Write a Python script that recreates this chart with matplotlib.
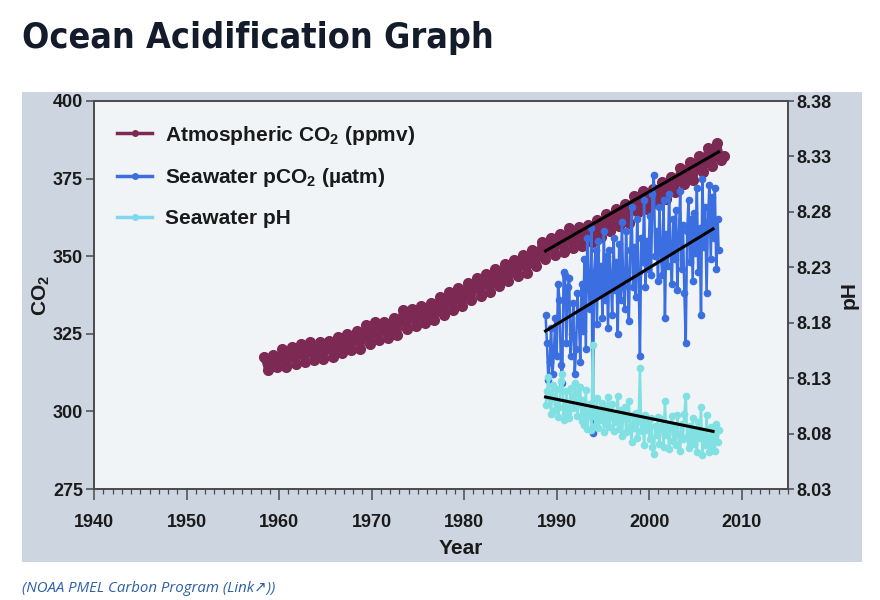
import numpy as np
import matplotlib
matplotlib.use("Agg")
import matplotlib.pyplot as plt
from matplotlib.patches import Rectangle
from matplotlib.lines import Line2D
from matplotlib.ticker import MultipleLocator

plt.rcParams["font.family"] = ["Liberation Sans", "DejaVu Sans"]
plt.rcParams["mathtext.default"] = "regular"

# Mauna Loa atmospheric CO2: yearly seasonal peak (May) and trough (Oct), ppmv
co2_year = list(range(1958, 2008))
co2_peak = [317.5, 318.3, 320.0, 320.6, 321.6, 322.3, 322.2, 322.8, 324.1, 324.8,
            326.0, 327.8, 328.7, 328.9, 330.2, 332.7, 333.0, 333.9, 334.8, 336.9,
            338.4, 339.8, 341.5, 343.1, 344.4, 345.9, 347.6, 348.9, 350.4, 352.1,
            354.5, 355.9, 357.3, 359.0, 359.4, 359.9, 361.8, 363.6, 365.3, 366.8,
            369.4, 371.1, 371.8, 373.8, 375.6, 378.4, 380.5, 382.2, 384.9, 386.4]
co2_trough = [313.2, 314.2, 314.3, 315.2, 315.8, 316.4, 317.0, 317.5, 318.7, 319.7,
              320.2, 321.6, 322.9, 323.6, 324.7, 326.6, 327.4, 328.5, 329.3, 331.0,
              332.8, 334.0, 336.0, 337.2, 338.4, 340.5, 342.0, 343.5, 344.7, 346.9,
              349.1, 350.4, 351.4, 352.5, 353.4, 354.5, 356.1, 358.2, 359.8, 360.8,
              364.1, 365.2, 367.0, 368.4, 370.8, 373.2, 374.5, 377.0, 379.1, 381.0]
co2_end = (2008.1, 382.3)

# Station ALOHA seawater pCO2 (uatm) and pH
hot_year = [1988.80, 1988.95, 1989.10, 1989.25, 1989.40, 1989.55, 1989.70, 1989.85,
            1990.00, 1990.15, 1990.30, 1990.45, 1990.60, 1990.75, 1990.90,
            1991.05, 1991.20, 1991.35, 1991.50, 1991.65, 1991.80, 1991.95,
            1992.10, 1992.25, 1992.40, 1992.55, 1992.70, 1992.85,
            1993.00, 1993.15, 1993.30, 1993.45, 1993.60, 1993.75, 1993.90,
            1994.05, 1994.20, 1994.35, 1994.50, 1994.65, 1994.80, 1994.95,
            1995.10, 1995.25, 1995.40, 1995.55, 1995.70, 1995.85,
            1996.00, 1996.15, 1996.30, 1996.45, 1996.60, 1996.75, 1996.90,
            1997.05, 1997.20, 1997.35, 1997.50, 1997.65, 1997.80, 1997.95,
            1998.10, 1998.25, 1998.40, 1998.55, 1998.70, 1998.85,
            1999.00, 1999.15, 1999.30, 1999.45, 1999.60, 1999.75, 1999.90,
            2000.05, 2000.20, 2000.35, 2000.50, 2000.65, 2000.80, 2000.95,
            2001.10, 2001.25, 2001.40, 2001.55, 2001.70, 2001.85,
            2002.00, 2002.15, 2002.30, 2002.45, 2002.60, 2002.75, 2002.90,
            2003.05, 2003.20, 2003.35, 2003.50, 2003.65, 2003.80, 2003.95,
            2004.10, 2004.25, 2004.40, 2004.55, 2004.70, 2004.85,
            2005.00, 2005.15, 2005.30, 2005.45, 2005.60, 2005.75, 2005.90,
            2006.05, 2006.20, 2006.35, 2006.50, 2006.65, 2006.80, 2006.95,
            2007.10, 2007.25, 2007.40, 2007.50]
hot_pco2 = [331, 322, 310, 316, 327, 312, 319, 330,
            318, 341, 336, 315, 309, 345, 344,
            322, 340, 343, 318, 325, 335, 312,
            320, 338, 330, 316, 341, 326,
            349, 320, 356, 341, 333, 359, 293,
            345, 352, 328, 355, 338, 347, 330,
            358, 336, 350, 327, 352, 343,
            331, 356, 339, 348, 325, 354, 336,
            361, 340, 333, 358, 345, 329, 352,
            366, 340, 353, 337, 362, 345,
            318, 356, 348, 368, 340, 355, 346,
            363, 344, 370, 376, 350, 358, 342,
            366, 351, 344, 368, 330, 357,
            347, 370, 352, 341, 362, 349, 365,
            339, 356, 371, 346, 360, 338, 322,
            358, 368, 348, 362, 342, 364,
            351, 372, 345, 359, 331, 375, 353,
            366, 338, 361, 373, 349, 369, 356,
            372, 346, 362, 352]
hot_ph = [8.106, 8.118, 8.131, 8.112, 8.098, 8.124, 8.113, 8.101,
          8.120, 8.095, 8.104, 8.127, 8.134, 8.092, 8.099,
          8.118, 8.099, 8.094, 8.121, 8.112, 8.103, 8.126,
          8.117, 8.096, 8.108, 8.122, 8.091, 8.110,
          8.088, 8.119, 8.084, 8.097, 8.107, 8.083, 8.160,
          8.096, 8.088, 8.112, 8.085, 8.101, 8.092, 8.108,
          8.081, 8.103, 8.089, 8.113, 8.086, 8.095,
          8.107, 8.082, 8.099, 8.090, 8.114, 8.084, 8.101,
          8.078, 8.097, 8.104, 8.081, 8.093, 8.109, 8.086,
          8.072, 8.097, 8.085, 8.099, 8.076, 8.091,
          8.139, 8.082, 8.090, 8.070, 8.097, 8.083, 8.092,
          8.075, 8.094, 8.068, 8.062, 8.087, 8.079, 8.095,
          8.071, 8.086, 8.093, 8.068, 8.109, 8.079,
          8.089, 8.066, 8.084, 8.096, 8.073, 8.087, 8.070,
          8.097, 8.079, 8.064, 8.089, 8.075, 8.098, 8.114,
          8.077, 8.067, 8.087, 8.073, 8.094, 8.071,
          8.084, 8.063, 8.090, 8.076, 8.104, 8.061, 8.082,
          8.070, 8.097, 8.074, 8.063, 8.086, 8.066, 8.079,
          8.064, 8.089, 8.072, 8.083]

# trend lines (start/end)
trend_atm = ([1988.8, 2007.5], [351.7, 383.6])
trend_pco2 = ([1988.8, 2006.9], [325.9, 358.8])
trend_ph = ([1988.8, 2006.9], [8.113, 8.082])

c_atm = "#7c2953"
c_pco2 = "#3b6ee0"
c_ph = "#80e0e2"
c_ph_leg = "#80d8ee"

# interleave peak/trough into one time series
co2_t, co2_v = [], []
for y, p, t in zip(co2_year, co2_peak, co2_trough):
    co2_t += [y + 0.37, y + 0.78]
    co2_v += [p, t]
co2_t.append(co2_end[0])
co2_v.append(co2_end[1])

fig = plt.figure(figsize=(8.8, 6), dpi=100)
fig.patch.set_facecolor("white")
fig.patches.append(Rectangle((22 / 880, 1 - 562 / 600), 840 / 880, 470 / 600,
                             transform=fig.transFigure, facecolor="#cdd6e0",
                             edgecolor="none", zorder=-10))

ax = fig.add_axes([94 / 880, 1 - 489 / 600, 694 / 880, 388 / 600])
ax.set_facecolor("#f1f4f7")
ax2 = ax.twinx()

ax.plot(co2_t, co2_v, "-o", color=c_atm, lw=5, ms=7, zorder=2)
ax.plot(hot_year, hot_pco2, "-o", color=c_pco2, lw=1.8, ms=4.5, zorder=3)
ax.plot(*trend_atm, color="black", lw=2.2, zorder=5)
ax.plot(*trend_pco2, color="black", lw=2.2, zorder=5)

ax2.plot(hot_year, hot_ph, "-o", color=c_ph, lw=1.8, ms=4.5, zorder=3)
ax2.plot(*trend_ph, color="black", lw=2.2, zorder=5)

ax.set_xlim(1940, 2015)
ax.set_ylim(275, 400)
ax2.set_ylim(8.03, 8.38)
ax.set_xticks(np.arange(1940, 2011, 10))
ax.xaxis.set_minor_locator(MultipleLocator(1))
ax.set_yticks(np.arange(275, 401, 25))
ax2.set_yticks(np.arange(8.03, 8.381, 0.05))
ax2.set_yticklabels(["%.2f" % v for v in np.arange(8.03, 8.381, 0.05)])

spine_c = "#4a4a4a"
for a in (ax, ax2):
    for s in a.spines.values():
        s.set_color(spine_c)
        s.set_linewidth(1.2)
ax.tick_params(axis="x", which="major", direction="out", length=8, width=1.1,
               color=spine_c, pad=10, labelsize=13, labelcolor="#1a1a1a")
ax.tick_params(axis="x", which="minor", direction="out", length=3.5, width=0.9,
               color=spine_c)
ax.tick_params(axis="y", direction="out", length=6, width=1.1, color=spine_c,
               pad=2, labelsize=13, labelcolor="#1a1a1a")
ax2.tick_params(axis="y", direction="out", length=4, width=1.1, color=spine_c,
                pad=2, labelsize=13, labelcolor="#1a1a1a")
for lab in ax.get_xticklabels() + ax.get_yticklabels() + ax2.get_yticklabels():
    lab.set_fontweight("bold")

ax.set_ylabel("CO$_2$", fontsize=15, fontweight="bold", color="#1a1a1a")
ax.yaxis.set_label_coords(-0.06, 0.5)
ax2.set_ylabel("pH", fontsize=15, fontweight="bold", color="#1a1a1a")
ax2.yaxis.set_label_coords(1.075, 0.5)
fig.text(461 / 880, 1 - 549 / 600, "Year", fontsize=15, fontweight="bold",
         color="#1a1a1a", ha="center", va="center")

handles = [Line2D([], [], color=c_atm, lw=2.5, marker="o", ms=4),
           Line2D([], [], color=c_pco2, lw=2.5, marker="o", ms=4),
           Line2D([], [], color=c_ph_leg, lw=2.5, marker="o", ms=4)]
labels = ["Atmospheric CO$_2$ (ppmv)", "Seawater pCO$_2$ (µatm)", "Seawater pH"]
leg = ax2.legend(handles, labels, loc="upper left", bbox_to_anchor=(0.006, 0.99),
                 frameon=False, handlelength=1.7, handletextpad=0.6,
                 labelspacing=0.95, prop={"size": 15, "weight": "bold"})
for t in leg.get_texts():
    t.set_color("#1a1a1a")

# title, sized to the width of the original heading
title = fig.text(22 / 880, 1 - 38 / 600, "Ocean Acidification Graph",
                 fontsize=30, fontweight="bold", color="#141b2b",
                 family=["DejaVu Sans"], fontstretch="condensed",
                 ha="left", va="center")
r = fig.canvas.get_renderer()
w = title.get_window_extent(r).width
title.set_fontsize(30 * 471 / w)

fig.text(22 / 880, 1 - 588 / 600, "(NOAA PMEL Carbon Program (Link\u2197))",
         fontsize=10.8, style="italic", color="#2d5fa8",
         family=["Open Sans", "DejaVu Sans"], ha="left", va="center")

fig.savefig("out.png", dpi=100)
